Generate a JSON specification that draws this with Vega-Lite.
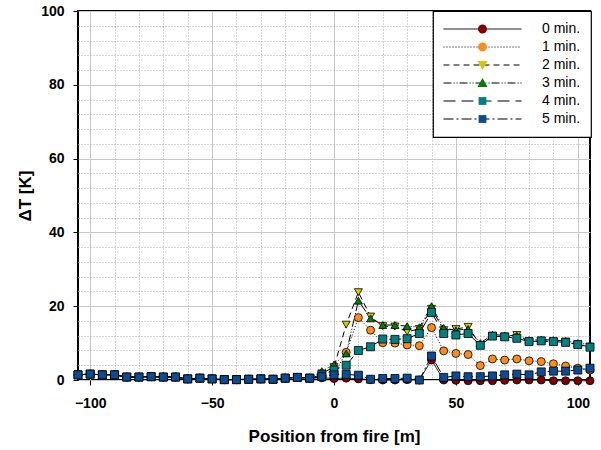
{
  "$schema": "https://vega.github.io/schema/vega-lite/v6.json",
  "autosize": "none",
  "width": 512,
  "height": 369,
  "padding": {"left": 78, "top": 11, "right": 11, "bottom": 70},
  "background": "white",
  "config": {
    "font": "Liberation Sans",
    "view": {"stroke": "black", "strokeWidth": 2},
    "legend": {"strokeWidth": 1.2}
  },
  "data": {"values": [
    {"x":-105,"s":"0 min.","t":1.4},{"x":-100,"s":"0 min.","t":1.6},{"x":-95,"s":"0 min.","t":1.4},{"x":-90,"s":"0 min.","t":1.4},{"x":-85,"s":"0 min.","t":0.8},{"x":-80,"s":"0 min.","t":0.8},{"x":-75,"s":"0 min.","t":0.9},{"x":-70,"s":"0 min.","t":0.8},{"x":-65,"s":"0 min.","t":0.8},{"x":-60,"s":"0 min.","t":0.3},{"x":-55,"s":"0 min.","t":0.5},{"x":-50,"s":"0 min.","t":0.3},{"x":-45,"s":"0 min.","t":0.1},{"x":-40,"s":"0 min.","t":0.1},{"x":-35,"s":"0 min.","t":0.2},{"x":-30,"s":"0 min.","t":0.3},{"x":-25,"s":"0 min.","t":0.2},{"x":-20,"s":"0 min.","t":0.5},{"x":-15,"s":"0 min.","t":0.7},{"x":-10,"s":"0 min.","t":0.5},{"x":-5,"s":"0 min.","t":0.6},{"x":0,"s":"0 min.","t":0.4},{"x":5,"s":"0 min.","t":0.5},{"x":10,"s":"0 min.","t":0.3},{"x":15,"s":"0 min.","t":0.1},{"x":20,"s":"0 min.","t":0.0},{"x":25,"s":"0 min.","t":0.0},{"x":30,"s":"0 min.","t":0.1},{"x":35,"s":"0 min.","t":0.0},{"x":40,"s":"0 min.","t":5.4},{"x":45,"s":"0 min.","t":0.0},{"x":50,"s":"0 min.","t":-0.1},{"x":55,"s":"0 min.","t":-0.2},{"x":60,"s":"0 min.","t":-0.2},{"x":65,"s":"0 min.","t":-0.2},{"x":70,"s":"0 min.","t":-0.1},{"x":75,"s":"0 min.","t":0.0},{"x":80,"s":"0 min.","t":0.0},{"x":85,"s":"0 min.","t":0.0},{"x":90,"s":"0 min.","t":-0.2},{"x":95,"s":"0 min.","t":-0.2},{"x":100,"s":"0 min.","t":-0.2},{"x":105,"s":"0 min.","t":-0.2},
    {"x":-105,"s":"1 min.","t":1.4},{"x":-100,"s":"1 min.","t":1.6},{"x":-95,"s":"1 min.","t":1.4},{"x":-90,"s":"1 min.","t":1.4},{"x":-85,"s":"1 min.","t":0.8},{"x":-80,"s":"1 min.","t":0.8},{"x":-75,"s":"1 min.","t":0.9},{"x":-70,"s":"1 min.","t":0.8},{"x":-65,"s":"1 min.","t":0.8},{"x":-60,"s":"1 min.","t":0.3},{"x":-55,"s":"1 min.","t":0.5},{"x":-50,"s":"1 min.","t":0.3},{"x":-45,"s":"1 min.","t":0.1},{"x":-40,"s":"1 min.","t":0.1},{"x":-35,"s":"1 min.","t":0.2},{"x":-30,"s":"1 min.","t":0.3},{"x":-25,"s":"1 min.","t":0.2},{"x":-20,"s":"1 min.","t":0.5},{"x":-15,"s":"1 min.","t":0.7},{"x":-10,"s":"1 min.","t":0.5},{"x":-5,"s":"1 min.","t":0.8},{"x":0,"s":"1 min.","t":1.5},{"x":5,"s":"1 min.","t":7.5},{"x":10,"s":"1 min.","t":16.9},{"x":15,"s":"1 min.","t":13.5},{"x":20,"s":"1 min.","t":10.1},{"x":25,"s":"1 min.","t":10.0},{"x":30,"s":"1 min.","t":9.5},{"x":35,"s":"1 min.","t":9.3},{"x":40,"s":"1 min.","t":14.2},{"x":45,"s":"1 min.","t":7.9},{"x":50,"s":"1 min.","t":7.2},{"x":55,"s":"1 min.","t":6.9},{"x":60,"s":"1 min.","t":3.9},{"x":65,"s":"1 min.","t":5.7},{"x":70,"s":"1 min.","t":5.4},{"x":75,"s":"1 min.","t":5.7},{"x":80,"s":"1 min.","t":5.2},{"x":85,"s":"1 min.","t":5.0},{"x":90,"s":"1 min.","t":4.4},{"x":95,"s":"1 min.","t":3.8},{"x":100,"s":"1 min.","t":3.2},{"x":105,"s":"1 min.","t":2.7},
    {"x":-105,"s":"2 min.","t":1.4},{"x":-100,"s":"2 min.","t":1.6},{"x":-95,"s":"2 min.","t":1.4},{"x":-90,"s":"2 min.","t":1.4},{"x":-85,"s":"2 min.","t":0.8},{"x":-80,"s":"2 min.","t":0.8},{"x":-75,"s":"2 min.","t":0.9},{"x":-70,"s":"2 min.","t":0.8},{"x":-65,"s":"2 min.","t":0.8},{"x":-60,"s":"2 min.","t":0.3},{"x":-55,"s":"2 min.","t":0.5},{"x":-50,"s":"2 min.","t":0.3},{"x":-45,"s":"2 min.","t":0.1},{"x":-40,"s":"2 min.","t":0.1},{"x":-35,"s":"2 min.","t":0.2},{"x":-30,"s":"2 min.","t":0.3},{"x":-25,"s":"2 min.","t":0.2},{"x":-20,"s":"2 min.","t":0.5},{"x":-15,"s":"2 min.","t":0.7},{"x":-10,"s":"2 min.","t":0.5},{"x":-5,"s":"2 min.","t":1.8},{"x":0,"s":"2 min.","t":3.5},{"x":5,"s":"2 min.","t":15.0},{"x":10,"s":"2 min.","t":23.8},{"x":15,"s":"2 min.","t":17.2},{"x":20,"s":"2 min.","t":14.6},{"x":25,"s":"2 min.","t":14.5},{"x":30,"s":"2 min.","t":13.1},{"x":35,"s":"2 min.","t":13.8},{"x":40,"s":"2 min.","t":19.3},{"x":45,"s":"2 min.","t":13.5},{"x":50,"s":"2 min.","t":13.8},{"x":55,"s":"2 min.","t":14.4},{"x":60,"s":"2 min.","t":9.5},{"x":65,"s":"2 min.","t":11.9},{"x":70,"s":"2 min.","t":11.7},{"x":75,"s":"2 min.","t":12.2},{"x":80,"s":"2 min.","t":10.4},{"x":85,"s":"2 min.","t":10.6},{"x":90,"s":"2 min.","t":10.4},{"x":95,"s":"2 min.","t":10.4},{"x":100,"s":"2 min.","t":9.6},{"x":105,"s":"2 min.","t":9.0},
    {"x":-105,"s":"3 min.","t":1.4},{"x":-100,"s":"3 min.","t":1.6},{"x":-95,"s":"3 min.","t":1.4},{"x":-90,"s":"3 min.","t":1.4},{"x":-85,"s":"3 min.","t":0.8},{"x":-80,"s":"3 min.","t":0.8},{"x":-75,"s":"3 min.","t":0.9},{"x":-70,"s":"3 min.","t":0.8},{"x":-65,"s":"3 min.","t":0.8},{"x":-60,"s":"3 min.","t":0.3},{"x":-55,"s":"3 min.","t":0.5},{"x":-50,"s":"3 min.","t":0.3},{"x":-45,"s":"3 min.","t":0.1},{"x":-40,"s":"3 min.","t":0.1},{"x":-35,"s":"3 min.","t":0.2},{"x":-30,"s":"3 min.","t":0.3},{"x":-25,"s":"3 min.","t":0.2},{"x":-20,"s":"3 min.","t":0.5},{"x":-15,"s":"3 min.","t":0.7},{"x":-10,"s":"3 min.","t":0.5},{"x":-5,"s":"3 min.","t":2.4},{"x":0,"s":"3 min.","t":4.2},{"x":5,"s":"3 min.","t":7.2},{"x":10,"s":"3 min.","t":21.5},{"x":15,"s":"3 min.","t":16.7},{"x":20,"s":"3 min.","t":14.9},{"x":25,"s":"3 min.","t":14.9},{"x":30,"s":"3 min.","t":14.6},{"x":35,"s":"3 min.","t":14.3},{"x":40,"s":"3 min.","t":20.0},{"x":45,"s":"3 min.","t":14.1},{"x":50,"s":"3 min.","t":13.5},{"x":55,"s":"3 min.","t":13.8},{"x":60,"s":"3 min.","t":10.0},{"x":65,"s":"3 min.","t":12.3},{"x":70,"s":"3 min.","t":12.1},{"x":75,"s":"3 min.","t":12.0},{"x":80,"s":"3 min.","t":10.8},{"x":85,"s":"3 min.","t":11.0},{"x":90,"s":"3 min.","t":10.8},{"x":95,"s":"3 min.","t":10.6},{"x":100,"s":"3 min.","t":10.0},{"x":105,"s":"3 min.","t":9.6},
    {"x":-105,"s":"4 min.","t":1.4},{"x":-100,"s":"4 min.","t":1.6},{"x":-95,"s":"4 min.","t":1.4},{"x":-90,"s":"4 min.","t":1.4},{"x":-85,"s":"4 min.","t":0.8},{"x":-80,"s":"4 min.","t":0.8},{"x":-75,"s":"4 min.","t":0.9},{"x":-70,"s":"4 min.","t":0.8},{"x":-65,"s":"4 min.","t":0.8},{"x":-60,"s":"4 min.","t":0.3},{"x":-55,"s":"4 min.","t":0.5},{"x":-50,"s":"4 min.","t":0.3},{"x":-45,"s":"4 min.","t":0.1},{"x":-40,"s":"4 min.","t":0.1},{"x":-35,"s":"4 min.","t":0.2},{"x":-30,"s":"4 min.","t":0.3},{"x":-25,"s":"4 min.","t":0.2},{"x":-20,"s":"4 min.","t":0.5},{"x":-15,"s":"4 min.","t":0.7},{"x":-10,"s":"4 min.","t":0.5},{"x":-5,"s":"4 min.","t":1.4},{"x":0,"s":"4 min.","t":2.7},{"x":5,"s":"4 min.","t":4.0},{"x":10,"s":"4 min.","t":8.0},{"x":15,"s":"4 min.","t":9.0},{"x":20,"s":"4 min.","t":11.1},{"x":25,"s":"4 min.","t":11.0},{"x":30,"s":"4 min.","t":11.2},{"x":35,"s":"4 min.","t":12.6},{"x":40,"s":"4 min.","t":18.3},{"x":45,"s":"4 min.","t":12.6},{"x":50,"s":"4 min.","t":12.2},{"x":55,"s":"4 min.","t":12.6},{"x":60,"s":"4 min.","t":9.4},{"x":65,"s":"4 min.","t":11.9},{"x":70,"s":"4 min.","t":11.7},{"x":75,"s":"4 min.","t":11.3},{"x":80,"s":"4 min.","t":10.4},{"x":85,"s":"4 min.","t":10.6},{"x":90,"s":"4 min.","t":10.4},{"x":95,"s":"4 min.","t":10.2},{"x":100,"s":"4 min.","t":9.6},{"x":105,"s":"4 min.","t":8.9},
    {"x":-105,"s":"5 min.","t":1.4},{"x":-100,"s":"5 min.","t":1.6},{"x":-95,"s":"5 min.","t":1.4},{"x":-90,"s":"5 min.","t":1.4},{"x":-85,"s":"5 min.","t":0.8},{"x":-80,"s":"5 min.","t":0.8},{"x":-75,"s":"5 min.","t":0.9},{"x":-70,"s":"5 min.","t":0.8},{"x":-65,"s":"5 min.","t":0.8},{"x":-60,"s":"5 min.","t":0.3},{"x":-55,"s":"5 min.","t":0.5},{"x":-50,"s":"5 min.","t":0.3},{"x":-45,"s":"5 min.","t":0.1},{"x":-40,"s":"5 min.","t":0.1},{"x":-35,"s":"5 min.","t":0.2},{"x":-30,"s":"5 min.","t":0.3},{"x":-25,"s":"5 min.","t":0.2},{"x":-20,"s":"5 min.","t":0.5},{"x":-15,"s":"5 min.","t":0.7},{"x":-10,"s":"5 min.","t":0.5},{"x":-5,"s":"5 min.","t":0.9},{"x":0,"s":"5 min.","t":1.4},{"x":5,"s":"5 min.","t":1.5},{"x":10,"s":"5 min.","t":1.3},{"x":15,"s":"5 min.","t":0.2},{"x":20,"s":"5 min.","t":0.4},{"x":25,"s":"5 min.","t":0.4},{"x":30,"s":"5 min.","t":0.5},{"x":35,"s":"5 min.","t":0.0},{"x":40,"s":"5 min.","t":6.5},{"x":45,"s":"5 min.","t":0.7},{"x":50,"s":"5 min.","t":1.1},{"x":55,"s":"5 min.","t":0.9},{"x":60,"s":"5 min.","t":0.9},{"x":65,"s":"5 min.","t":1.1},{"x":70,"s":"5 min.","t":1.4},{"x":75,"s":"5 min.","t":1.6},{"x":80,"s":"5 min.","t":1.4},{"x":85,"s":"5 min.","t":2.2},{"x":90,"s":"5 min.","t":2.4},{"x":95,"s":"5 min.","t":2.4},{"x":100,"s":"5 min.","t":2.7},{"x":105,"s":"5 min.","t":3.2}
  ]},
  "layer": [
    {
      "mark": {"type": "line", "color": "black", "strokeWidth": 1},
      "encoding": {
        "x": {"field": "x", "type": "quantitative",
          "scale": {"domain": [-105, 105], "nice": false, "zero": false},
          "axis": {"orient": "bottom", "values": [-100, -50, 0, 50, 100], "grid": true, "gridColor": "#c8c8c8", "gridWidth": 1,
            "domain": false, "tickSize": 5, "tickColor": "black", "tickWidth": 1, "labelFlush": false,
            "labelFont": "Liberation Sans", "labelFontSize": 14, "labelFontWeight": "bold", "labelColor": "black", "labelPadding": 11,
            "title": "Position from fire [m]", "titleFont": "Liberation Sans", "titleFontSize": 17, "titleFontWeight": "bold", "titleColor": "black", "titlePadding": 18}},
        "y": {"field": "t", "type": "quantitative",
          "scale": {"domain": [0, 100], "nice": false, "zero": false},
          "axis": {"orient": "left", "values": [0, 20, 40, 60, 80, 100], "grid": true, "gridColor": "#c8c8c8", "gridWidth": 1,
            "domain": false, "tickSize": 5, "tickColor": "black", "tickWidth": 1, "labelFlush": false,
            "labelFont": "Liberation Sans", "labelFontSize": 14, "labelFontWeight": "bold", "labelColor": "black", "labelPadding": 9,
            "title": "ΔT [K]", "titleFont": "Liberation Sans", "titleFontSize": 17, "titleFontWeight": "bold", "titleColor": "black", "titlePadding": 6}},
        "strokeDash": {"field": "s", "type": "nominal",
          "scale": {"domain": ["0 min.", "1 min.", "2 min.", "3 min.", "4 min.", "5 min."],
            "range": [[1, 0], [1, 2], [6, 4], [8, 2, 1, 2, 1, 2], [12, 6], [10, 3, 2, 3]]},
          "legend": {"orient": "none", "legendX": 355, "legendY": 0, "title": null,
            "symbolType": "M-1,0L1,0", "symbolSize": 6084, "symbolStrokeColor": "black", "symbolStrokeWidth": 1, "symbolFillColor": "transparent",
            "clipHeight": 16, "rowPadding": 2, "labelOffset": 20, "labelFont": "Liberation Sans", "labelFontSize": 14, "labelColor": "black",
            "padding": 10, "fillColor": "white", "strokeColor": "black", "zindex": 0}}
      }
    },
    {
      "mark": {"type": "point", "filled": true, "stroke": "black", "strokeWidth": 0.8, "size": 64, "opacity": 1},
      "encoding": {
        "x": {"field": "x", "type": "quantitative",
          "axis": {"orient": "bottom", "values": [-90, -80, -70, -60, -40, -30, -20, -10, 10, 20, 30, 40, 60, 70, 80, 90],
            "grid": true, "gridDash": [1, 2], "gridColor": "#a8a8a8", "gridWidth": 1, "domain": false, "ticks": false, "labels": false, "title": null}},
        "y": {"field": "t", "type": "quantitative",
          "axis": {"orient": "left", "values": [4, 8, 12, 16, 24, 28, 32, 36, 44, 48, 52, 56, 64, 68, 72, 76, 84, 88, 92, 96],
            "grid": true, "gridDash": [1, 2], "gridColor": "#a8a8a8", "gridWidth": 1, "domain": false, "ticks": false, "labels": false, "title": null}},
        "shape": {"field": "s", "type": "nominal",
          "scale": {"domain": ["0 min.", "1 min.", "2 min.", "3 min.", "4 min.", "5 min."],
            "range": ["circle", "circle", "triangle-down", "triangle-up", "square", "square"]}, "legend": null},
        "fill": {"field": "s", "type": "nominal",
          "scale": {"domain": ["0 min.", "1 min.", "2 min.", "3 min.", "4 min.", "5 min."],
            "range": ["#800000", "#FF8C1A", "#CCCC00", "#008000", "#008080", "#0B4C94"]}, "legend": null}
      }
    },
    {
      "data": {"values": [{"k": "0 min."}, {"k": "1 min."}, {"k": "2 min."}, {"k": "3 min."}, {"k": "4 min."}, {"k": "5 min."}]},
      "mark": {"type": "point", "filled": true, "opacity": 0},
      "encoding": {
        "shape": {"field": "k", "type": "nominal",
          "scale": {"domain": ["0 min.", "1 min.", "2 min.", "3 min.", "4 min.", "5 min."],
            "range": ["M-0.115,0A0.115,0.115,0,1,1,0.115,0A0.115,0.115,0,1,1,-0.115,0Z",
                      "M-0.115,0A0.115,0.115,0,1,1,0.115,0A0.115,0.115,0,1,1,-0.115,0Z",
                      "M-0.13,-0.1L0.13,-0.1L0,0.13Z",
                      "M-0.13,0.1L0.13,0.1L0,-0.13Z",
                      "M-0.1,-0.1L0.1,-0.1L0.1,0.1L-0.1,0.1Z",
                      "M-0.1,-0.1L0.1,-0.1L0.1,0.1L-0.1,0.1Z"]},
          "legend": {"orient": "none", "legendX": 355, "legendY": 0, "title": null, "symbolSize": 6084,
            "symbolStrokeColor": "black", "symbolStrokeWidth": 0.8, "symbolOpacity": 1,
            "clipHeight": 16, "rowPadding": 2, "labelOffset": 20, "labelExpr": "''", "labelFontSize": 14, "padding": 10, "zindex": 1}},
        "fill": {"field": "k", "type": "nominal",
          "scale": {"domain": ["0 min.", "1 min.", "2 min.", "3 min.", "4 min.", "5 min."],
            "range": ["#800000", "#FF8C1A", "#CCCC00", "#008000", "#008080", "#0B4C94"]},
          "legend": {"orient": "none", "legendX": 355, "legendY": 0, "title": null, "symbolSize": 6084,
            "symbolStrokeColor": "black", "symbolStrokeWidth": 0.8, "symbolOpacity": 1,
            "clipHeight": 16, "rowPadding": 2, "labelOffset": 20, "labelExpr": "''", "labelFontSize": 14, "padding": 10, "zindex": 1}}
      }
    }
  ],
  "resolve": {
    "scale": {"shape": "independent", "fill": "independent"},
    "axis": {"x": "independent", "y": "independent"}
  }
}
